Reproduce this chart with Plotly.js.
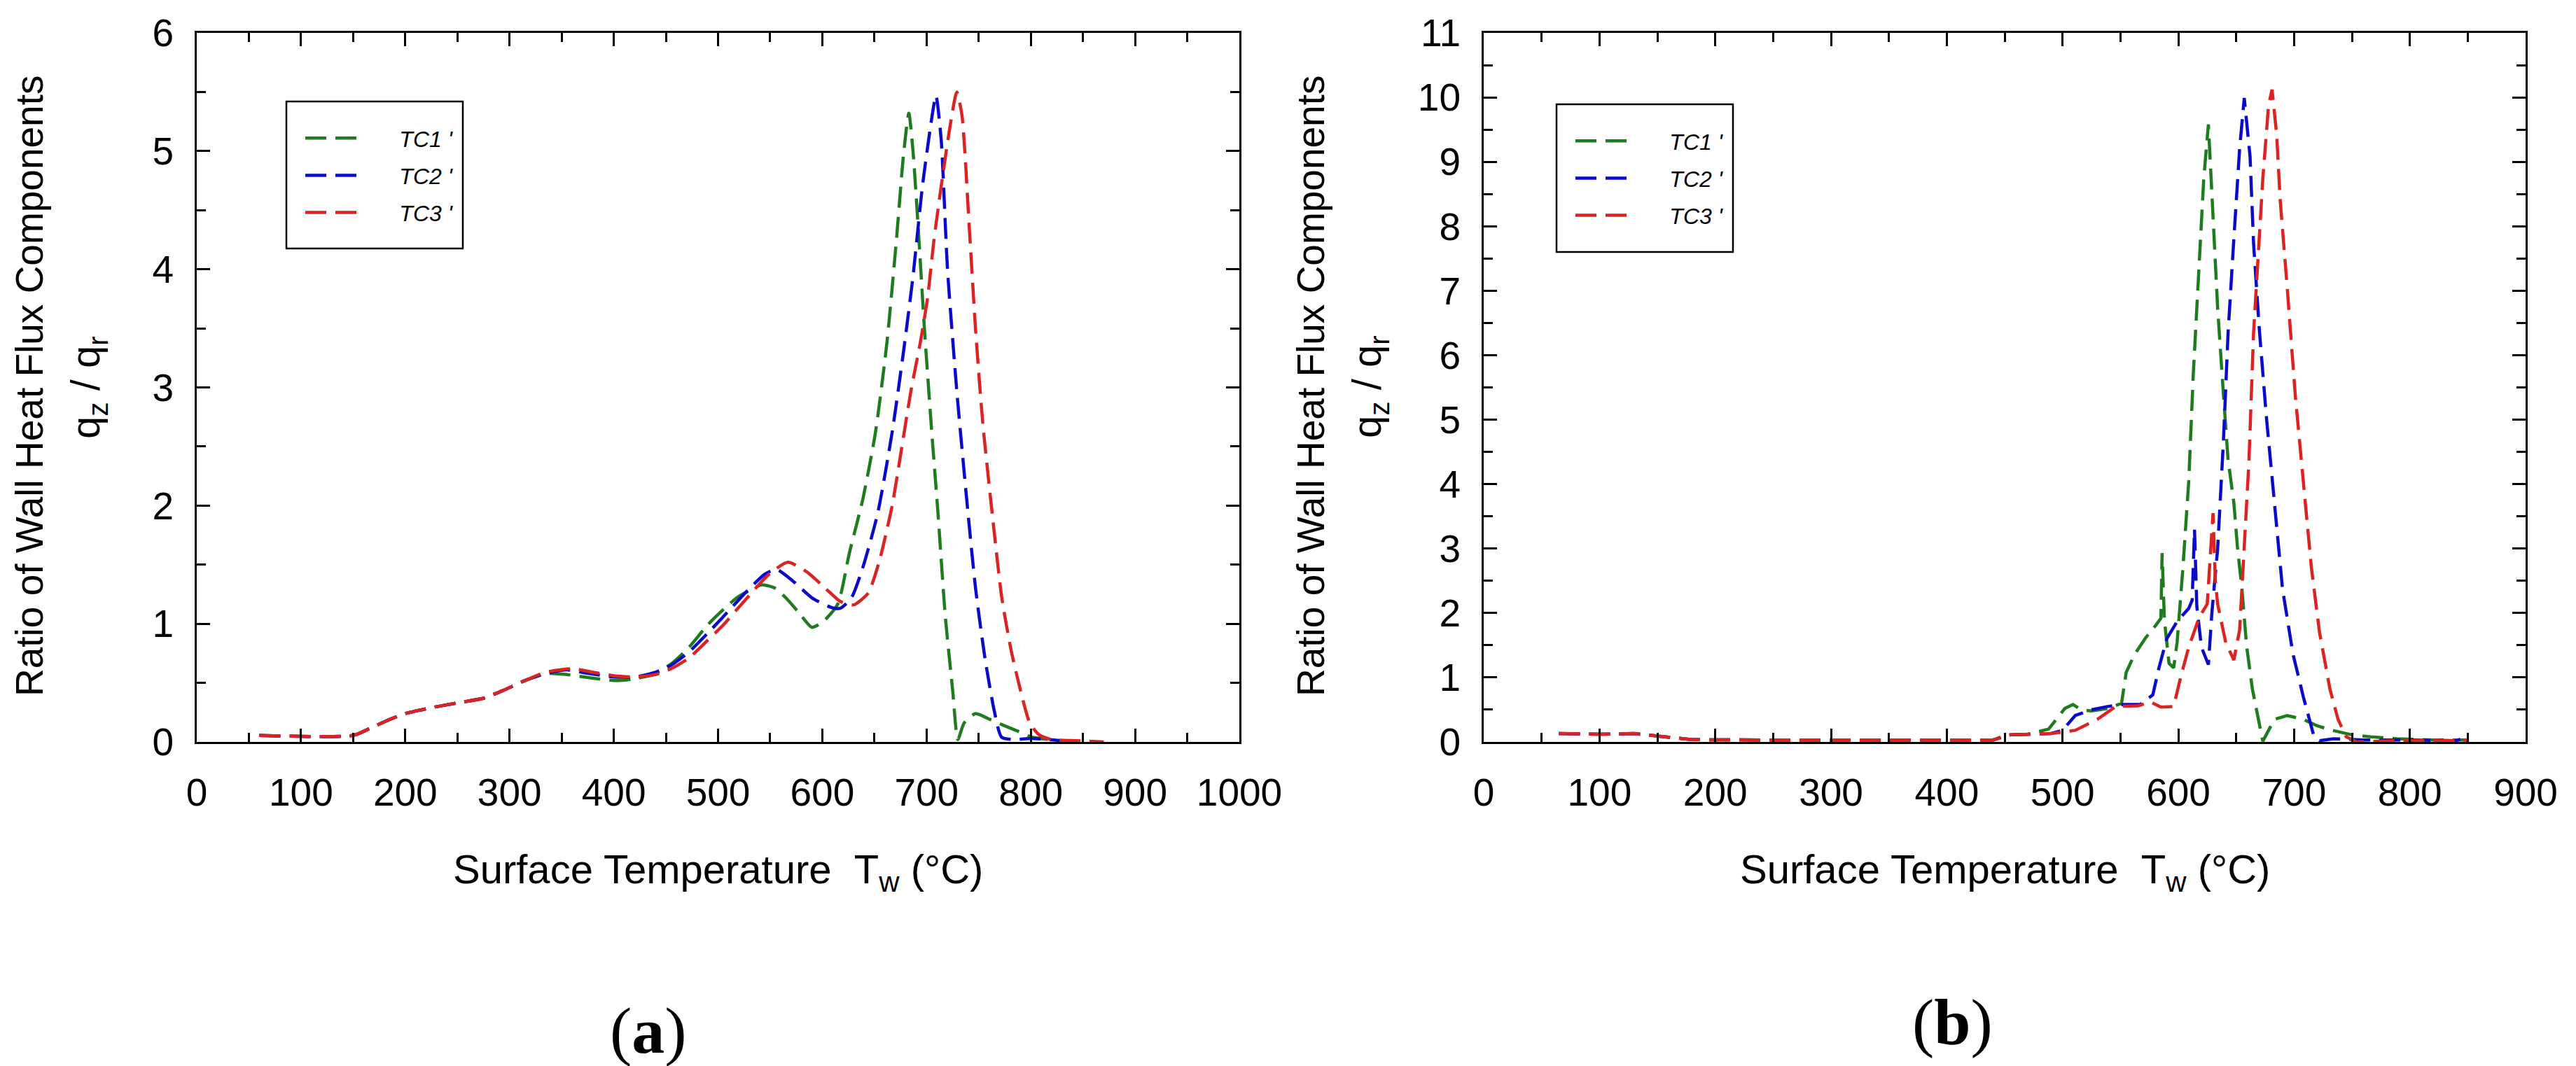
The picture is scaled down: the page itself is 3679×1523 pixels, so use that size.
<!DOCTYPE html>
<html>
<head>
<meta charset="utf-8">
<script src="https://cdn.plot.ly/plotly-3.0.1.min.js"></script>
<style>
  html, body { margin: 0; padding: 0; background: #fff; }
  #myDiv { width: 3679px; height: 1523px; }
</style>
</head>
<body>
<div id="myDiv"></div>
<script>
// (a) surface temperature (deg C) and ratio qz/qr for each thermocouple
var aTc1T = [60, 150, 165, 185, 200, 225, 250, 275, 295, 315, 335, 355, 379, 400, 417, 438, 455, 472, 490, 505, 518, 530, 542, 555, 565, 577, 590, 601, 615, 626, 639, 651, 662, 671, 678, 683, 687, 692, 698, 705, 711, 718, 725, 730, 736, 747, 761, 774, 788, 801, 820];
var aTc1R = [0.055, 0.055, 0.11, 0.19, 0.24, 0.29, 0.33, 0.37, 0.44, 0.52, 0.58, 0.57, 0.54, 0.52, 0.53, 0.57, 0.66, 0.80, 0.99, 1.12, 1.22, 1.28, 1.33, 1.30, 1.22, 1.10, 0.97, 1.02, 1.17, 1.60, 2.06, 2.62, 3.38, 4.24, 4.98, 5.32, 5.00, 4.35, 3.49, 2.62, 1.93, 1.06, 0.44, 0.02, 0.16, 0.24, 0.19, 0.14, 0.09, 0.04, 0.02];

var aTc2T = [60, 150, 165, 185, 200, 225, 250, 275, 295, 315, 335, 355, 375, 400, 420, 440, 455, 472, 490, 504, 527, 545, 556, 572, 590, 608, 617, 628, 639, 653, 667, 678, 687, 696, 705, 709, 714, 720, 729, 738, 747, 756, 765, 772, 785, 800, 830];
var aTc2R = [0.055, 0.055, 0.11, 0.19, 0.24, 0.29, 0.33, 0.37, 0.44, 0.52, 0.58, 0.61, 0.58, 0.55, 0.55, 0.59, 0.65, 0.76, 0.92, 1.05, 1.27, 1.42, 1.46, 1.36, 1.22, 1.14, 1.13, 1.22, 1.48, 1.93, 2.62, 3.31, 3.94, 4.70, 5.28, 5.47, 5.10, 4.01, 2.97, 2.10, 1.30, 0.71, 0.26, 0.04, 0.02, 0.03, 0.01];

var aTc3T = [60, 150, 165, 185, 200, 225, 250, 275, 295, 315, 335, 360, 380, 400, 420, 440, 455, 472, 490, 504, 527, 549, 567, 585, 603, 617, 630, 644, 655, 667, 676, 685, 694, 701, 707, 714, 722, 729, 734, 741, 747, 754, 763, 772, 781, 790, 799, 808, 820, 845, 870];
var aTc3R = [0.055, 0.055, 0.11, 0.19, 0.24, 0.29, 0.33, 0.37, 0.44, 0.52, 0.59, 0.62, 0.59, 0.56, 0.55, 0.57, 0.62, 0.71, 0.86, 0.98, 1.21, 1.42, 1.52, 1.44, 1.30, 1.19, 1.16, 1.26, 1.54, 2.00, 2.48, 2.97, 3.38, 3.76, 4.24, 4.70, 5.18, 5.50, 5.30, 4.35, 3.49, 2.69, 1.93, 1.23, 0.78, 0.44, 0.16, 0.06, 0.02, 0.01, 0.00];

// (b)
var bTc1T = [65, 100, 130, 145, 160, 180, 250, 350, 440, 452, 470, 488, 502, 509, 516, 525, 539, 551, 555, 562, 572, 581, 585, 586, 588, 592, 596, 599, 604, 609, 613, 618, 622, 626, 630, 634, 639, 643, 648, 651, 655, 659, 664, 669, 673, 683, 694, 708, 720, 733, 750, 766, 789, 820, 850];
var bTc1R = [0.13, 0.12, 0.13, 0.10, 0.07, 0.035, 0.03, 0.03, 0.03, 0.11, 0.12, 0.20, 0.52, 0.58, 0.50, 0.48, 0.52, 0.60, 1.08, 1.35, 1.62, 1.82, 1.92, 2.93, 1.89, 1.22, 1.15, 1.55, 2.70, 4.04, 5.72, 7.40, 8.74, 9.58, 8.07, 6.73, 5.39, 4.38, 3.71, 3.04, 2.37, 1.49, 0.82, 0.35, 0.01, 0.35, 0.41, 0.35, 0.25, 0.18, 0.11, 0.08, 0.05, 0.03, 0.03];

var bTc2T = [65, 100, 130, 145, 160, 180, 250, 350, 440, 455, 470, 490, 500, 511, 525, 539, 553, 567, 578, 583, 590, 599, 609, 612, 614, 616, 620, 626, 629, 634, 639, 643, 648, 653, 657, 662, 665, 670, 676, 683, 690, 699, 708, 717, 722, 734, 760, 800, 840, 851];
var bTc2R = [0.13, 0.12, 0.13, 0.10, 0.07, 0.035, 0.03, 0.03, 0.03, 0.11, 0.12, 0.13, 0.18, 0.41, 0.50, 0.55, 0.58, 0.58, 0.73, 1.13, 1.60, 1.87, 2.07, 2.20, 3.30, 2.10, 1.47, 1.20, 2.00, 3.00, 4.67, 6.34, 7.81, 9.21, 9.99, 9.08, 7.74, 6.40, 5.06, 3.72, 2.38, 1.37, 0.70, 0.10, 0.02, 0.05, 0.03, 0.03, 0.02, 0.09];

var bTc3T = [65, 100, 130, 145, 160, 180, 250, 350, 440, 455, 470, 490, 511, 530, 546, 565, 576, 580, 585, 596, 602, 609, 618, 625, 630, 632, 634, 641, 648, 653, 657, 661, 665, 670, 673, 678, 681, 685, 688, 694, 701, 708, 715, 722, 731, 738, 745, 754, 790, 820, 850];
var bTc3R = [0.13, 0.12, 0.13, 0.10, 0.07, 0.035, 0.03, 0.03, 0.03, 0.11, 0.12, 0.13, 0.18, 0.35, 0.55, 0.56, 0.62, 0.58, 0.54, 0.55, 1.00, 1.47, 1.93, 2.14, 3.55, 2.50, 2.14, 1.54, 1.27, 1.74, 3.00, 4.34, 6.34, 7.74, 8.74, 9.88, 10.12, 9.42, 8.41, 7.07, 5.39, 4.04, 2.70, 1.70, 0.82, 0.35, 0.08, 0.00, 0.02, 0.02, 0.02];

var seriesNames = ["TC1 '", "TC2 '", "TC3 '"];
var seriesColors = ['#1e7b1e', '#0a0acc', '#dd2222'];

var W = 3679, H = 1523;
var SANS = '"Liberation Sans", Arial, sans-serif';
var SERIF = '"Liberation Serif", "Times New Roman", serif';
var GAP = '\u00a0\u00a0\u00a0\u00a0\u00a0\u00a0';

// pixel helpers for layout placement only
function px(x){ return x / W; }
function py(y){ return 1 - y / H; }

function lineTrace(x, y, i, xa, ya, leg, shape){
	return {
		x: x, y: y,
		type: 'scatter', mode: 'lines',
		name: GAP + seriesNames[i],
		legendgroup: leg + i,
		legend: leg,
		xaxis: xa, yaxis: ya,
		line: {color: seriesColors[i], width: 4.5, dash: '30px,13px', shape: shape, smoothing: 0.6}
	};
}

var data = [
	lineTrace(aTc1T, aTc1R, 0, 'x', 'y', 'legend', 'spline'),
	lineTrace(aTc2T, aTc2R, 1, 'x', 'y', 'legend', 'spline'),
	lineTrace(aTc3T, aTc3R, 2, 'x', 'y', 'legend', 'spline'),
	lineTrace(bTc1T, bTc1R, 0, 'x2', 'y2', 'legend2', 'linear'),
	lineTrace(bTc2T, bTc2R, 1, 'x2', 'y2', 'legend2', 'linear'),
	lineTrace(bTc3T, bTc3R, 2, 'x2', 'y2', 'legend2', 'linear')
];

function xAxis(range, domain, anchor){
	return {
		domain: domain, anchor: anchor, range: range,
		tick0: 0, dtick: 100,
		ticks: 'inside', ticklen: 19, tickwidth: 3, tickcolor: 'black',
		minor: {tick0: 0, dtick: 50, ticks: 'inside', ticklen: 13, tickwidth: 3, tickcolor: 'black'},
		showline: true, linewidth: 3, linecolor: 'black', mirror: 'ticks',
		showgrid: false, zeroline: false,
		tickfont: {family: SANS, size: 55, color: 'black'},
		ticklabelstandoff: 22
	};
}
function yAxis(range, domain, anchor){
	return {
		domain: domain, anchor: anchor, range: range,
		tick0: 0, dtick: 1,
		ticks: 'inside', ticklen: 19, tickwidth: 3, tickcolor: 'black',
		minor: {tick0: 0, dtick: 0.5, ticks: 'inside', ticklen: 13, tickwidth: 3, tickcolor: 'black'},
		showline: true, linewidth: 3, linecolor: 'black', mirror: 'ticks',
		showgrid: false, zeroline: false,
		tickfont: {family: SANS, size: 55, color: 'black'},
		ticklabelstandoff: 19
	};
}

var yDom = [py(1060), py(47)];

function legendBox(x0, y0, x1, y1){
	return {type: 'rect', xref: 'paper', yref: 'paper',
		x0: px(x0), x1: px(x1), y0: py(y1), y1: py(y0),
		line: {color: 'black', width: 2.5}, fillcolor: 'rgba(0,0,0,0)'};
}
function legendCfg(x, y){
	return {
		x: px(x), y: py(y), xanchor: 'left', yanchor: 'top',
		bgcolor: 'rgba(0,0,0,0)', borderwidth: 0,
		itemwidth: 76, tracegroupgap: 8.5,
		font: {family: SANS, size: 32, color: 'black', style: 'italic'}
	};
}

function note(text, x, y, size, angle, family){
	return {text: text, xref: 'paper', yref: 'paper', x: px(x), y: py(y),
		xanchor: 'center', yanchor: 'middle', showarrow: false, textangle: angle || 0,
		font: {family: family || SANS, size: size, color: 'black'}};
}

var layout = {
	width: W, height: H,
	margin: {l: 0, r: 0, t: 0, b: 0},
	paper_bgcolor: 'white', plot_bgcolor: 'white',
	font: {family: SANS, size: 55, color: 'black'},
	showlegend: true,
	xaxis: xAxis([0, 1000], [px(281), px(1770)], 'y'),
	yaxis: yAxis([0, 6], yDom, 'x'),
	xaxis2: xAxis([0, 900], [px(2119), px(3607)], 'y2'),
	yaxis2: yAxis([0, 11], yDom, 'x2'),
	legend: legendCfg(431, 170),
	legend2: legendCfg(2245, 174),
	shapes: [legendBox(409, 145, 661, 355), legendBox(2223, 149, 2475, 360)],
	annotations: [
		note('Surface Temperature\u00a0\u00a0T<sub>w</sub> (°C)', 1025, 1246, 58),
		note('Surface Temperature\u00a0\u00a0T<sub>w</sub> (°C)', 2863, 1246, 58),
		note('Ratio of Wall Heat Flux Components', 42, 551, 55, -90),
		note('q<sub>z</sub> / q<sub>r</sub>', 126, 553, 58, -90),
		note('Ratio of Wall Heat Flux Components', 1872, 551, 55, -90),
		note('q<sub>z</sub> / q<sub>r</sub>', 1956, 553, 58, -90),
		note('(<b>a</b>)', 926, 1472, 94, 0, SERIF),
		note('(<b>b</b>)', 2788, 1460, 94, 0, SERIF)
	]
};

Plotly.newPlot('myDiv', data, layout, {displayModeBar: false, responsive: false});
</script>
</body>
</html>
